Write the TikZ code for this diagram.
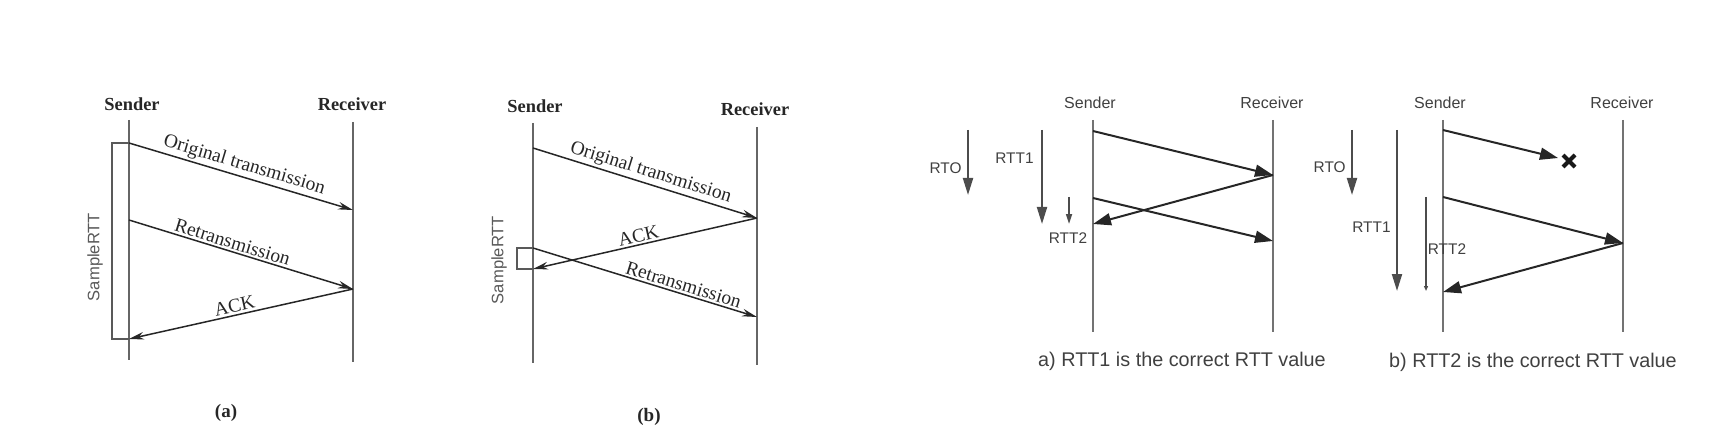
\documentclass[tikz,border=0pt]{standalone}
\usepackage{fontspec}
\setmainfont{Liberation Serif}
\newfontfamily\arialf{Liberation Sans}
\usetikzlibrary{arrows.meta}
\begin{document}
\begin{tikzpicture}[x=0.5pt,y=-0.5pt,
  lifeA/.style={draw=black!60, line width=0.8pt},
  msgA/.style={draw=black!85, line width=0.75pt, -{Stealth[length=7.5pt,width=3.8pt]}},
  brack/.style={draw=black!65, line width=0.6pt},
  lblA/.style={font=\fontsize{9.7}{11}\selectfont, text=black!85, inner sep=1pt},
  headA/.style={font=\bfseries\fontsize{9.2}{11}\selectfont, text=black!85},
  srtt/.style={font=\arialf\fontsize{8.3}{10}\selectfont, text=black!65, rotate=90},
  capA/.style={font=\bfseries\fontsize{9.5}{11}\selectfont, text=black!85},
  lifeB/.style={draw=black!55, line width=1pt},
  msgB/.style={draw=black!85, line width=1pt, -{Triangle[length=9pt,width=6pt]}},
  timeB/.style={draw=black!70, line width=1pt, -{Triangle[length=8.5pt,width=5pt]}},
  headB/.style={font=\arialf\fontsize{8}{10}\selectfont, text=black!75},
  lblB/.style={font=\arialf\fontsize{7.7}{9}\selectfont, text=black!75, inner sep=1pt},
  capB/.style={font=\arialf\fontsize{9.9}{12}\selectfont, text=black!75}
]
\useasboundingbox (0,0) rectangle (1736,444);

% ---------- (a) ----------
\node[headA] (aSh) at (132,104) {Sender};
\node[headA] (aRh) at (352,104) {Receiver};
\coordinate (aSt) at (129,120); \coordinate (aSb) at (129,360);
\coordinate (aRt) at (353,122); \coordinate (aRb) at (353,362);
\draw[lifeA] (aSt) -- (aSb);
\draw[lifeA] (aRt) -- (aRb);
\coordinate (a1) at (129,143); \coordinate (a2) at (353,210);
\coordinate (a3) at (129,220); \coordinate (a4) at (353,289);
\coordinate (a5) at (129,339);
\draw[msgA] (a1) -- node[lblA, sloped, above] {Original transmission} (a2);
\draw[msgA] (a3) -- node[lblA, sloped, above, pos=0.45] {Retransmission} (a4);
\draw[msgA] (a4) -- node[lblA, sloped, above, pos=0.52] {ACK} (a5);
\draw[brack] (a1) -- (112,143) -- (112,339) -- (a5);
\node[srtt] (aSR) at (95,257) {SampleRTT};
\node[capA] (aCap) at (226,413) {(a)};

% ---------- (b) ----------
\node[headA] (bSh) at (535,106) {Sender};
\node[headA] (bRh) at (755,109) {Receiver};
\coordinate (bSt) at (533,123); \coordinate (bSb) at (533,363);
\coordinate (bRt) at (757,127); \coordinate (bRb) at (757,365);
\draw[lifeA] (bSt) -- (bSb);
\draw[lifeA] (bRt) -- (bRb);
\coordinate (b1) at (533,148); \coordinate (b2) at (757,218);
\coordinate (b3) at (533,269); \coordinate (b4) at (533,248);
\coordinate (b5) at (757,317);
\draw[msgA] (b1) -- node[lblA, sloped, above, pos=0.51] {Original transmission} (b2);
\draw[msgA] (b2) -- node[lblA, sloped, above, pos=0.52] {ACK} (b3);
\draw[msgA] (b4) -- node[lblA, sloped, above, pos=0.66] {Retransmission} (b5);
\draw[brack] (b4) -- (517,248) -- (517,269) -- (b3);
\node[srtt] (bSR) at (499,260) {SampleRTT};
\node[capA] (bCap) at (649,417) {(b)};

% ---------- (c) ----------
\node[headB] (cSh) at (1090,103) {Sender};
\node[headB] (cRh) at (1272,103) {Receiver};
\coordinate (cSt) at (1093,120); \coordinate (cSb) at (1093,332);
\coordinate (cRt) at (1273,120); \coordinate (cRb) at (1273,332);
\draw[lifeB] (cSt) -- (cSb);
\draw[lifeB] (cRt) -- (cRb);
\coordinate (c1) at (1093,131); \coordinate (c2) at (1273,175);
\coordinate (c3) at (1093,224); \coordinate (c4) at (1093,198);
\coordinate (c5) at (1273,241);
\draw[msgB] (c1) -- (c2);
\draw[msgB] (c2) -- (c3);
\draw[msgB] (c4) -- (c5);
\coordinate (cO1) at (968,130); \coordinate (cO2) at (968,195);
\draw[timeB] (cO1) -- (cO2);
\node[lblB, anchor=east] (cRTO) at (964,168) {RTO};
\coordinate (cT1) at (1042,130); \coordinate (cT2) at (1042,224);
\draw[timeB] (cT1) -- (cT2);
\node[lblB, anchor=east] (cRTT1) at (1036,158) {RTT1};
\coordinate (cU1) at (1069,197); \coordinate (cU2) at (1069,224);
\draw[draw=black!70, line width=0.8pt, -{Triangle[length=5pt,width=3pt]}] (cU1) -- (cU2);
\node[lblB] (cRTT2) at (1068,238) {RTT2};
\node[capB] (cCap) at (1182,361) {a) RTT1 is the correct RTT value};

% ---------- (d) ----------
\node[headB] (dSh) at (1440,103) {Sender};
\node[headB] (dRh) at (1622,103) {Receiver};
\coordinate (dSt) at (1443,120); \coordinate (dSb) at (1443,332);
\coordinate (dRt) at (1623,120); \coordinate (dRb) at (1623,332);
\draw[lifeB] (dSt) -- (dSb);
\draw[lifeB] (dRt) -- (dRb);
\coordinate (d1) at (1443,130); \coordinate (d2) at (1558,158);
\coordinate (dX) at (1569,161);
\coordinate (d3) at (1443,197); \coordinate (d4) at (1623,243);
\coordinate (d5) at (1443,292);
\draw[msgB] (d1) -- (d2);
\draw[black!90, line width=2pt] ([shift={(-6,-6)}]dX) -- ([shift={(6,6)}]dX)
  ([shift={(-6,6)}]dX) -- ([shift={(6,-6)}]dX);
\draw[msgB] (d3) -- (d4);
\draw[msgB] (d4) -- (d5);
\coordinate (dO1) at (1352,130); \coordinate (dO2) at (1352,195);
\draw[timeB] (dO1) -- (dO2);
\node[lblB, anchor=east] (dRTO) at (1348,167) {RTO};
\coordinate (dT1) at (1397,130); \coordinate (dT2) at (1397,291);
\draw[timeB] (dT1) -- (dT2);
\node[lblB, anchor=east] (dRTT1) at (1393,227) {RTT1};
\coordinate (dU1) at (1426,197); \coordinate (dU2) at (1426,291);
\draw[draw=black!70, line width=0.8pt, -{Triangle[length=2.5pt,width=2pt]}] (dU1) -- (dU2);
\node[lblB] (dRTT2) at (1447,249) {RTT2};
\node[capB] (dCap) at (1533,362) {b) RTT2 is the correct RTT value};
\end{tikzpicture}
\end{document}
